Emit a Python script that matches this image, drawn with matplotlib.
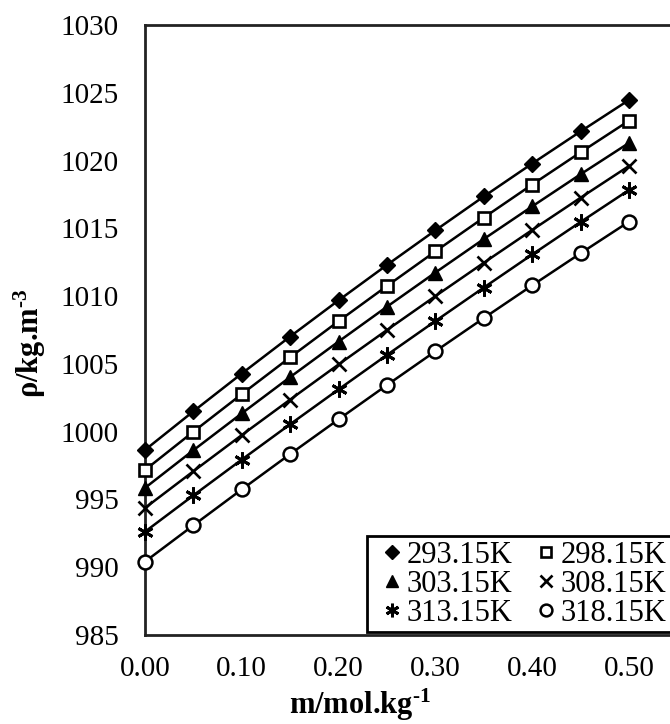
import matplotlib
matplotlib.use("Agg")
import matplotlib.pyplot as plt
from matplotlib.lines import Line2D

plt.rcParams['font.family'] = ['Liberation Serif', 'DejaVu Serif']
plt.rcParams['mathtext.fontset'] = 'custom'
plt.rcParams['mathtext.rm'] = 'Liberation Serif'
plt.rcParams['mathtext.bf'] = 'Liberation Serif:bold'
plt.rcParams['mathtext.it'] = 'Liberation Serif:italic'

molality = [0.00, 0.05, 0.10, 0.15, 0.20, 0.25, 0.30, 0.35, 0.40, 0.45, 0.50]
labels = ["293.15K", "298.15K", "303.15K", "308.15K", "313.15K", "318.15K"]
rho_29315 = [998.65, 1001.50, 1004.29, 1007.02, 1009.69, 1012.30, 1014.85, 1017.35, 1019.78, 1022.15, 1024.47]
rho_29815 = [997.17, 1000.00, 1002.77, 1005.49, 1008.15, 1010.75, 1013.30, 1015.79, 1018.23, 1020.61, 1022.94]
rho_30315 = [995.85, 998.63, 1001.35, 1004.03, 1006.65, 1009.22, 1011.74, 1014.21, 1016.62, 1018.99, 1021.30]
rho_30815 = [994.37, 997.08, 999.75, 1002.37, 1004.96, 1007.50, 1010.00, 1012.46, 1014.88, 1017.26, 1019.60]
rho_31315 = [992.62, 995.30, 997.94, 1000.55, 1003.12, 1005.66, 1008.16, 1010.63, 1013.07, 1015.47, 1017.83]
rho_31815 = [990.41, 993.09, 995.74, 998.35, 1000.91, 1003.44, 1005.93, 1008.38, 1010.79, 1013.16, 1015.49]
series = [rho_29315, rho_29815, rho_30315, rho_30815, rho_31315, rho_31815]

x_ticks = [0.00, 0.10, 0.20, 0.30, 0.40, 0.50]
y_ticks = [985, 990, 995, 1000, 1005, 1010, 1015, 1020, 1025, 1030]

styles = [
    dict(marker='D', ms=8.5, mfc='black', mec='black', mew=1.0),
    dict(marker='s', ms=9, mfc='white', mec='black', mew=1.9),
    dict(marker='^', ms=10.5, mfc='black', mec='black', mew=1.0),
    dict(marker='x', ms=9.5, mfc='black', mec='black', mew=1.9),
    dict(marker=(6, 2, 0), ms=11.5, mfc='black', mec='black', mew=2.1),
    dict(marker='o', ms=10, mfc='white', mec='black', mew=1.8),
]

W, H = 670, 724
fig = plt.figure(figsize=(W / 100, H / 100), dpi=100)
left_px, right_px, top_px, bot_px = 145, 145 + 0.6 * 968, 25, 635
ax = fig.add_axes([left_px / W, 1 - bot_px / H, (right_px - left_px) / W, (bot_px - top_px) / H])

for vals, st in zip(series, styles):
    ax.plot(molality, vals, color='black', lw=1.8, clip_on=False, zorder=3, **st)

ax.set_xlim(0, 0.6)
ax.set_ylim(985, 1030)
ax.set_xticks(x_ticks)
ax.set_xticklabels([f"{v:.2f}" for v in x_ticks])
ax.set_yticks(y_ticks)
ax.set_yticklabels([str(v) for v in y_ticks])
ax.tick_params(axis='both', length=0, labelsize=21)
ax.tick_params(axis='y', pad=19)
ax.tick_params(axis='x', pad=15)
for s in ax.spines.values():
    s.set_linewidth(2.0)
    s.set_color('#222222')

# row-major legend order (matplotlib fills columns first)
order = [0, 2, 4, 1, 3, 5]
handles = [Line2D([], [], linestyle='none', color='black', **styles[i]) for i in order]
leg_labels = [labels[i] for i in order]
leg = fig.legend(handles, leg_labels, ncol=2, loc='upper left',
                 bbox_to_anchor=(367 / W, 1 - 536 / H), bbox_transform=fig.transFigure,
                 fontsize=22, frameon=True, fancybox=False, edgecolor='black',
                 framealpha=1, borderpad=0.15, labelspacing=0.0, handlelength=1.33,
                 handletextpad=-0.18, columnspacing=0.42, markerscale=0.85, borderaxespad=0)
leg.get_frame().set_linewidth(2.0)

fig.text(30 / W, 1 - 343 / H, 'ρ/kg.m$^{\\mathbf{\u20103}}$', rotation=90,
         ha='center', va='center', fontsize=22, fontweight='bold')
fig.text(360 / W, 1 - 714 / H, 'm/mol.kg$^{\\mathbf{\u20101}}$',
         ha='center', va='baseline', fontsize=22, fontweight='bold')

fig.savefig('out.png', dpi=100)
